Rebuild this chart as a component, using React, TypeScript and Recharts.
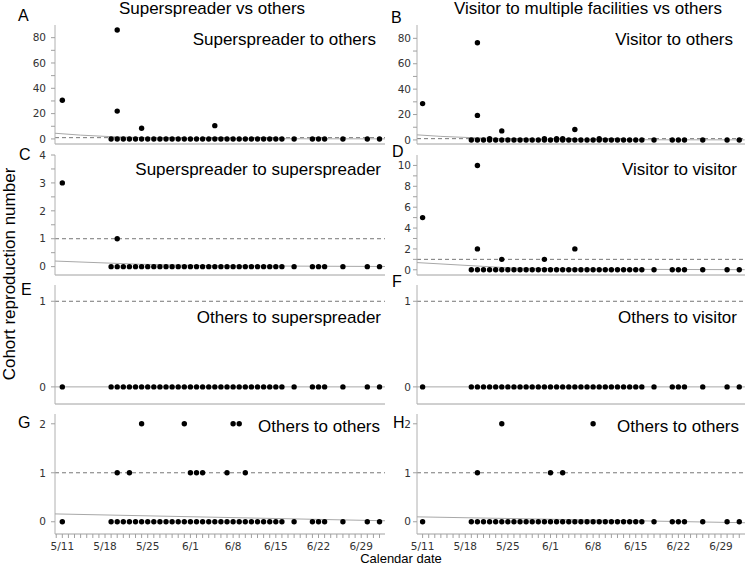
import React from 'react';
import { ScatterChart, Scatter, XAxis, YAxis, ReferenceLine } from 'recharts';

// ---- data (days counted from 5/11) ----
const ALL_DAYS = [0, 8, 9, 10, 11, 12, 13, 14, 15, 16, 17, 18, 19, 20, 21, 22, 23, 24, 25, 26, 27, 28, 29, 30, 31, 32, 33, 34, 35, 36, 38, 41, 42, 43, 46, 50, 52];
const LATER_DAYS = [8, 9, 10, 11, 12, 13, 14, 15, 16, 17, 18, 19, 20, 21, 22, 23, 24, 25, 26, 27, 28, 29, 30, 31, 32, 33, 34, 35, 36, 38, 41, 42, 43, 46, 50, 52];
const DATE_TICK_DAYS = [0, 7, 14, 21, 28, 35, 42, 49];
const DATE_TICK_LABELS = ['5/11', '5/18', '5/25', '6/1', '6/8', '6/15', '6/22', '6/29'];

const A_DAYS = [0, 9, 9, 13, 25];
const A_VALUES = [30.5, 86, 22, 8.5, 10.5];
const B_DAYS = [0, 9, 9, 13, 25, 11, 20, 22, 23, 29];
const B_VALUES = [28.6, 76.5, 19.3, 7.1, 8.2, 1, 1, 1, 1, 1];
const C_DAYS = [0, 9];
const C_VALUES = [3, 1];
const D_DAYS = [0, 9, 9, 13, 20, 25];
const D_VALUES = [5, 10, 2, 1, 1, 2];
const G_DAYS = [9, 11, 13, 20, 21, 22, 23, 27, 28, 29, 30];
const G_VALUES = [1, 1, 2, 2, 1, 1, 1, 1, 2, 2, 1];
const H_DAYS = [9, 13, 21, 23, 28];
const H_VALUES = [1, 2, 1, 1, 2];

const A_FIT_DAYS = [-1.2, 3, 8, 15, 25, 40, 52.9];
const A_FIT = [4.5, 3, 1.8, 0.8, 0.3, 0.1, 0.05];
const B_FIT_DAYS = [-0.92, 3, 8, 15, 25, 40, 52.9];
const B_FIT = [4.0, 2.8, 1.8, 0.8, 0.3, 0.1, 0.05];
const C_FIT_DAYS = [-1.2, 12.7, 25, 52.9];
const C_FIT = [0.2, 0.085, 0.03, 0.005];
const D_FIT_DAYS = [-0.92, 15, 30, 52.9];
const D_FIT = [0.69, 0.16, 0.05, 0.01];
const E_FIT_DAYS = [-1.2, 52.9];
const E_FIT = [0, 0];
const F_FIT_DAYS = [-0.92, 52.94];
const F_FIT = [0, 0];
const G_FIT_DAYS = [-1.2, 52.9];
const G_FIT = [0.16, 0.02];
const H_FIT_DAYS = [-0.92, 52.94];
const H_FIT = [0.1, -0.02];

const pts = (days: number[], vals: number[]) => days.map((d, i) => ({ x: d, y: vals[i] }));
const zeros = (days: number[]) => days.map((d) => ({ x: d, y: 0 }));

// ---- layout ----
const COLS = [
  { left: 0, width: 390, yw: 55, mr: 5, xDomain: [-1.2, 52.9], tm: 5 },
  { left: 370, width: 380, yw: 47, mr: 5, xDomain: [-0.92, 52.94], tm: 2 },
];
const ROWS = [
  { top: 25, bottom: 144 },
  { top: 155, bottom: 275 },
  { top: 285, bottom: 404 },
  { top: 414, bottom: 534 },
];

const FONT = '"Liberation Sans", Arial, sans-serif';
const TICK_FONT = '"DejaVu Sans", Verdana, sans-serif';

const renderDot = (p: any) => <circle cx={p.cx} cy={p.cy} r={2.7} fill="#000" />;
const renderNone = () => <g />;

function Panel(props: any) {
  const { col, row, points, fit, yDomain, yTicks, yLabeled, showDates } = props;
  const c = COLS[col];
  const r = ROWS[row];
  const xh = showDates ? 28 : 10;
  const height = 5 + (r.bottom - r.top) + xh;
  const xTicks: number[] = [];
  for (let d = -1; d <= 53; d++) if (d >= c.xDomain[0] && d <= c.xDomain[1]) xTicks.push(d);
  const xFmt = (v: number) => {
    const i = DATE_TICK_DAYS.indexOf(v);
    return i >= 0 ? DATE_TICK_LABELS[i] : '';
  };
  const yFmt = (v: number) => (yLabeled.indexOf(v) >= 0 ? String(v) : '');
  return (
    <div style={{ position: 'absolute', left: c.left, top: r.top - 5 }}>
      <ScatterChart width={c.width} height={height} margin={{ top: 5, right: c.mr, bottom: 0, left: 0 }}>
        <XAxis
          type="number"
          dataKey="x"
          domain={c.xDomain}
          ticks={xTicks}
          interval={0}
          allowDataOverflow
          height={xh}
          tickSize={4}
          tickMargin={5}
          tickFormatter={xFmt}
          axisLine={{ stroke: '#a0a0a0' }}
          tickLine={{ stroke: '#a0a0a0' }}
          tick={showDates ? { fontSize: 10.5, fill: '#333', fontFamily: TICK_FONT } : false}
        />
        <XAxis
          xAxisId="top"
          orientation="top"
          type="number"
          domain={c.xDomain}
          height={0}
          tick={false}
          tickLine={false}
          axisLine={{ stroke: '#c8c8c8', strokeWidth: 1.5 }}
        />
        <YAxis
          type="number"
          dataKey="y"
          domain={yDomain}
          ticks={yTicks}
          interval={0}
          allowDataOverflow
          width={c.yw}
          tickSize={4}
          tickMargin={c.tm}
          tickFormatter={yFmt}
          axisLine={{ stroke: '#b0b0b0' }}
          tickLine={{ stroke: '#a0a0a0' }}
          tick={{ fontSize: 10.5, fill: '#333', fontFamily: TICK_FONT }}
        />
        <YAxis
          yAxisId="right"
          orientation="right"
          type="number"
          domain={yDomain}
          width={0}
          tick={false}
          tickLine={false}
          axisLine={{ stroke: '#c8c8c8', strokeWidth: 1.5 }}
        />
        <ReferenceLine y={1} stroke="#777" strokeDasharray="4 3" strokeWidth={1} />
        <Scatter data={fit} line={{ stroke: '#a8a8a8', strokeWidth: 1 }} lineType="joint" shape={renderNone} isAnimationActive={false} />
        <Scatter data={points} shape={renderDot} isAnimationActive={false} />
      </ScatterChart>
    </div>
  );
}

const BIG_TICKS = [0, 10, 20, 30, 40, 50, 60, 70, 80];
const BIG_LABELS = [0, 20, 40, 60, 80];

export default function App() {
  const panels = [
    { col: 0, row: 0, points: [...zeros(LATER_DAYS), ...pts(A_DAYS, A_VALUES)], fit: pts(A_FIT_DAYS, A_FIT), yDomain: [-4, 90], yTicks: BIG_TICKS, yLabeled: BIG_LABELS },
    { col: 1, row: 0, points: [...zeros(LATER_DAYS), ...pts(B_DAYS, B_VALUES)], fit: pts(B_FIT_DAYS, B_FIT), yDomain: [-3.2, 90.5], yTicks: BIG_TICKS, yLabeled: BIG_LABELS },
    { col: 0, row: 1, points: [...zeros(LATER_DAYS), ...pts(C_DAYS, C_VALUES)], fit: pts(C_FIT_DAYS, C_FIT), yDomain: [-0.3, 4], yTicks: [0, 0.5, 1, 1.5, 2, 2.5, 3, 3.5, 4], yLabeled: [0, 1, 2, 3, 4] },
    { col: 1, row: 1, points: [...zeros(LATER_DAYS), ...pts(D_DAYS, D_VALUES)], fit: pts(D_FIT_DAYS, D_FIT), yDomain: [-0.5, 11], yTicks: [0, 1, 2, 3, 4, 5, 6, 7, 8, 9, 10], yLabeled: [0, 2, 4, 6, 8, 10] },
    { col: 0, row: 2, points: zeros(ALL_DAYS), fit: pts(E_FIT_DAYS, E_FIT), yDomain: [-0.2, 1.19], yTicks: [0, 1], yLabeled: [0, 1] },
    { col: 1, row: 2, points: zeros(ALL_DAYS), fit: pts(F_FIT_DAYS, F_FIT), yDomain: [-0.2, 1.19], yTicks: [0, 1], yLabeled: [0, 1] },
    { col: 0, row: 3, points: [...zeros(ALL_DAYS), ...pts(G_DAYS, G_VALUES)], fit: pts(G_FIT_DAYS, G_FIT), yDomain: [-0.25, 2.2], yTicks: [0, 1, 2], yLabeled: [0, 1, 2], showDates: true },
    { col: 1, row: 3, points: [...zeros(ALL_DAYS), ...pts(H_DAYS, H_VALUES)], fit: pts(H_FIT_DAYS, H_FIT), yDomain: [-0.25, 2.2], yTicks: [0, 1, 2], yLabeled: [0, 1, 2], showDates: true },
  ];
  const subtitles = [
    { t: 'Superspreader to others', x: 376, y: 45 },
    { t: 'Visitor to others', x: 733, y: 45 },
    { t: 'Superspreader to superspreader', x: 381, y: 175 },
    { t: 'Visitor to visitor', x: 737, y: 175 },
    { t: 'Others to superspreader', x: 381, y: 323 },
    { t: 'Others to visitor', x: 737, y: 323 },
    { t: 'Others to others', x: 380, y: 432 },
    { t: 'Others to others', x: 739, y: 432 },
  ];
  const letters = [
    { t: 'A', x: 18, y: 21 },
    { t: 'B', x: 391, y: 23 },
    { t: 'C', x: 19, y: 160 },
    { t: 'D', x: 392, y: 157 },
    { t: 'E', x: 21, y: 295 },
    { t: 'F', x: 392, y: 287 },
    { t: 'G', x: 18, y: 428 },
    { t: 'H', x: 393, y: 428 },
  ];
  return (
    <div style={{ position: 'absolute', left: 0, top: 0, width: 750, height: 567, background: '#fff', overflow: 'hidden' }}>
      {panels.map((p, i) => (
        <Panel key={i} {...p} />
      ))}
      <svg width={750} height={567} style={{ position: 'absolute', left: 0, top: 0, pointerEvents: 'none' }}>
        <g fontFamily={FONT} fill="#000">
          <text x={212} y={14} fontSize={17} textAnchor="middle">Superspreader vs others</text>
          <text x={588} y={14} fontSize={17} textAnchor="middle">Visitor to multiple facilities vs others</text>
          {letters.map((l, i) => (
            <text key={'l' + i} x={l.x} y={l.y} fontSize={16}>{l.t}</text>
          ))}
          {subtitles.map((s, i) => (
            <text key={'s' + i} x={s.x} y={s.y} fontSize={17} textAnchor="end">{s.t}</text>
          ))}
          <text x={15} y={274} fontSize={17} textAnchor="middle" transform="rotate(-90 15 274)">Cohort reproduction number</text>
          <text x={401} y={563} fontSize={13} textAnchor="middle">Calendar date</text>
        </g>
      </svg>
    </div>
  );
}
